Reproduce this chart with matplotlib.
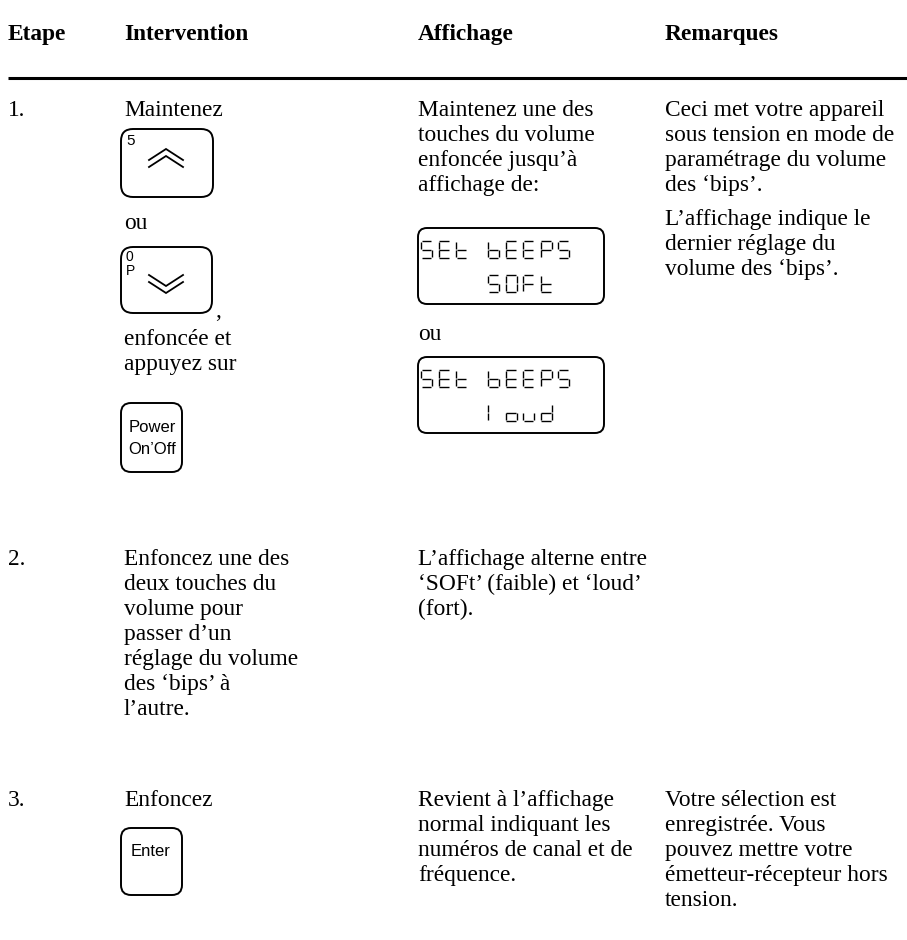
import matplotlib

matplotlib.use("Agg")
import matplotlib.pyplot as plt
from matplotlib.patches import FancyBboxPatch

# ==========================================
# Table content
# ==========================================

HEADERS = ["Etape", "Intervention", "Affichage", "Remarques"]
STEP_NUMBERS = ["1.", "2.", "3."]

STEP1_ACTION = ["Maintenez", "ou", "enfoncée et", "appuyez sur"]
STEP1_DISPLAY = ["Maintenez une des", "touches du volume",
                 "enfoncée jusqu’à", "affichage de:"]
STEP1_OR = "ou"
STEP1_REMARKS_A = ["Ceci met votre appareil", "sous tension en mode de",
                   "paramétrage du volume", "des ‘bips’."]
STEP1_REMARKS_B = ["L’affichage indique le", "dernier réglage du",
                   "volume des ‘bips’."]
LCD_SCREENS = [("SEt", "bEEPS", "SOFt"), ("SEt", "bEEPS", "loud")]

STEP2_ACTION = ["Enfoncez une des", "deux touches du", "volume pour",
                "passer d’un", "réglage du volume", "des ‘bips’ à", "l’autre."]
STEP2_DISPLAY = ["L’affichage alterne entre", "‘SOFt’ (faible) et ‘loud’",
                 "(fort)."]

STEP3_ACTION = ["Enfoncez"]
STEP3_DISPLAY = ["Revient à l’affichage", "normal indiquant les",
                 "numéros de canal et de", "fréquence."]
STEP3_REMARKS = ["Votre sélection est", "enregistrée. Vous",
                 "pouvez mettre votre", "émetteur-récepteur hors", "tension."]

# seven-segment glyphs: a top, b top-right, c bottom-right, d bottom,
# e bottom-left, f top-left, g middle
SEGMENTS = {
    "S": "afgcd", "E": "afged", "t": "fged", "b": "fegcd", "P": "abfge",
    "O": "abcdef", "F": "afge", "l": "fe", "o": "gcde", "u": "cde",
    "d": "bcdeg",
}

# ==========================================
# Layout
# ==========================================

SERIF = "Liberation Serif"
SANS = "Liberation Sans"
FS = 16.8
KEY_FS = 12
LINE = 25
COL_X = [8, 124, 418, 665]

fig = plt.figure(figsize=(9.07, 9.40), dpi=100, facecolor="white")
ax = fig.add_axes([0, 0, 1, 1])
ax.set_xlim(0, 907)
ax.set_ylim(940, 0)
ax.axis("off")


def lines(x, y0, texts, step=LINE):
    for i, t in enumerate(texts):
        ax.text(x, y0 + i * step, t, family=SERIF, fontsize=FS, va="baseline",
                ha="left", color="black")


def rbox(x0, y0, x1, y1, r=10, lw=1.4):
    ax.add_patch(FancyBboxPatch((x0, y0), x1 - x0, y1 - y0,
                                boxstyle=f"round,pad=0,rounding_size={r}",
                                fc="none", ec="black", lw=lw))


def chevrons(cx, y0, up=True):
    for k in range(2):
        yy = y0 + k * 7
        if up:
            ax.plot([cx - 17, cx, cx + 17], [yy + 11, yy, yy + 11],
                    color="black", lw=1.3, solid_joinstyle="miter")
        else:
            ax.plot([cx - 17, cx, cx + 17], [yy, yy + 11, yy],
                    color="black", lw=1.3, solid_joinstyle="miter")


def seg_text(x, y, text, w=11, h=17, pitch=17.5, gap=0.8):
    # y is top of the glyph cell
    for i, ch in enumerate(text):
        x0 = x + i * pitch
        x1 = x0 + w
        ym = y + h / 2
        y1 = y + h
        coords = {
            "a": ([x0 + gap, x1 - gap], [y, y]),
            "b": ([x1, x1], [y + gap, ym - gap]),
            "c": ([x1, x1], [ym + gap, y1 - gap]),
            "d": ([x0 + gap, x1 - gap], [y1, y1]),
            "e": ([x0, x0], [ym + gap, y1 - gap]),
            "f": ([x0, x0], [y + gap, ym - gap]),
            "g": ([x0 + gap, x1 - gap], [ym, ym]),
        }
        for s in SEGMENTS.get(ch, ""):
            xs, ys = coords[s]
            ax.plot(xs, ys, color="black", lw=1.0, solid_capstyle="butt")


# header
for x, h in zip(COL_X, HEADERS):
    ax.text(x, 40, h, family=SERIF, fontsize=FS, fontweight="bold",
            va="baseline", ha="left")
ax.plot([8, 907], [78, 78], color="black", lw=2.2, solid_capstyle="butt")

# ---- step 1
ax.text(COL_X[0], 116, STEP_NUMBERS[0], family=SERIF, fontsize=FS, va="baseline")
lines(COL_X[1], 116, [STEP1_ACTION[0]])

rbox(121, 129, 213, 197, r=12)
ax.text(126, 141, "5", family=SANS, fontsize=KEY_FS - 1, va="center", ha="left")
chevrons(166, 149, up=True)

lines(COL_X[1], 229, [STEP1_ACTION[1]])

rbox(121, 247, 212, 313, r=12)
ax.text(126, 257, "0", family=SANS, fontsize=KEY_FS - 2, va="center", ha="left")
ax.text(126, 271, "P", family=SANS, fontsize=KEY_FS - 2, va="center", ha="left")
chevrons(166, 275, up=False)
ax.text(215, 317, ",", family=SERIF, fontsize=FS, va="baseline")

lines(COL_X[1], 345, STEP1_ACTION[2:])

rbox(121, 403, 182, 472, r=10)
ax.text(152, 427, "Power", family=SANS, fontsize=KEY_FS, va="center", ha="center")
ax.text(152, 450, "On’Off", family=SANS, fontsize=KEY_FS, va="center", ha="center")

lines(COL_X[2], 116, STEP1_DISPLAY)
for k, (left, right1, right2) in enumerate(LCD_SCREENS):
    top = 228 + k * 129
    rbox(COL_X[2], top, 604, top + 76, r=9)
    seg_text(421, top + 13, left)
    seg_text(488, top + 13, right1)
    seg_text(488, top + 47, right2)
ax.text(COL_X[2], 340, STEP1_OR, family=SERIF, fontsize=FS, va="baseline")

lines(COL_X[3], 116, STEP1_REMARKS_A)
lines(COL_X[3], 225, STEP1_REMARKS_B)

# ---- step 2
ax.text(COL_X[0], 565, STEP_NUMBERS[1], family=SERIF, fontsize=FS, va="baseline")
lines(COL_X[1], 565, STEP2_ACTION)
lines(COL_X[2], 565, STEP2_DISPLAY)

# ---- step 3
ax.text(COL_X[0], 806, STEP_NUMBERS[2], family=SERIF, fontsize=FS, va="baseline")
lines(COL_X[1], 806, STEP3_ACTION)
rbox(121, 828, 182, 895, r=10)
ax.text(151, 852, "Enter", family=SANS, fontsize=KEY_FS, va="center", ha="center")
lines(COL_X[2], 806, STEP3_DISPLAY)
lines(COL_X[3], 806, STEP3_REMARKS)

fig.savefig("out.png", dpi=100, facecolor="white")
